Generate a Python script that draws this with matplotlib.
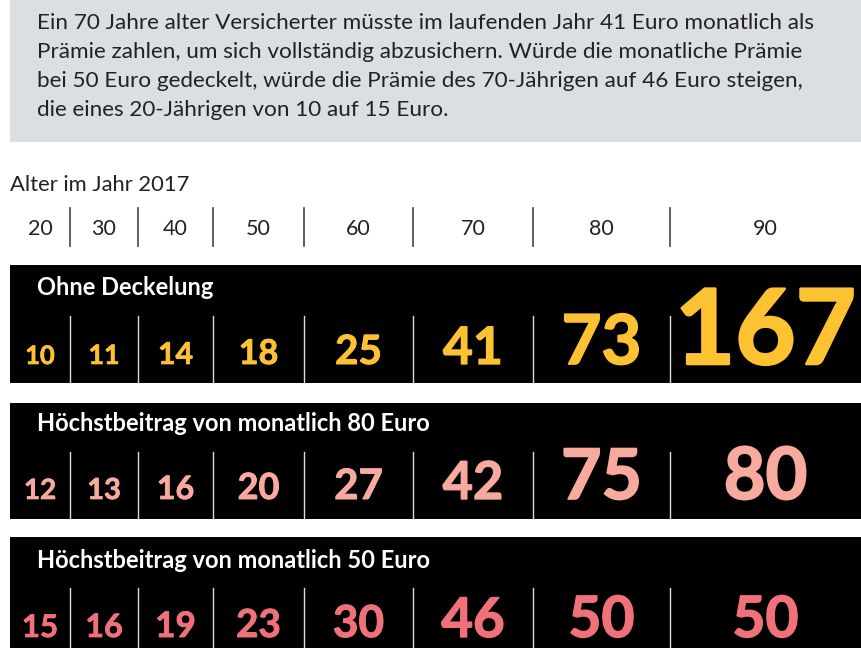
import numpy as np
import matplotlib.pyplot as plt
import matplotlib.patheffects as pe
from matplotlib.patches import Rectangle

plt.rcParams['font.family'] = ['Lato', 'DejaVu Sans']

intro_lines = [
    "Ein 70 Jahre alter Versicherter müsste im laufenden Jahr 41 Euro monatlich als",
    "Prämie zahlen, um sich vollständig abzusichern. Würde die monatliche Prämie",
    "bei 50 Euro gedeckelt, würde die Prämie des 70-Jährigen auf 46 Euro steigen,",
    "die eines 20-Jährigen von 10 auf 15 Euro.",
]
axis_title = "Alter im Jahr 2017"
ages = [20, 30, 40, 50, 60, 70, 80, 90]

titles = [
    "Ohne Deckelung",
    "Höchstbeitrag von monatlich 80 Euro",
    "Höchstbeitrag von monatlich 50 Euro",
]
ohne = [10, 11, 14, 18, 25, 41, 73, 167]
max80 = [12, 13, 16, 20, 27, 42, 75, 80]
max50 = [15, 16, 19, 23, 30, 46, 50, 50]
rows = [ohne, max80, max50]
colors = ["#fdc232", "#f8aa9f", "#f1717b"]

# layout, in pixels of the 861x648 picture
W, H = 861, 648
edges = [10, 70, 138, 213, 304, 413, 533, 670, 861]
panels = [(265, 383), (403, 519), (537, 648)]  # top, bottom
title_base = [295, 431, 568]
num_base = [364, 499, 637]
sep_top = [316, 452, 588]

fig = plt.figure(figsize=(W / 100, H / 100), dpi=100)
ax = fig.add_axes([0, 0, 1, 1])
ax.set_xlim(0, W)
ax.set_ylim(H, 0)
ax.axis("off")

# intro box
ax.add_patch(Rectangle((10, 0), W - 10, 142, color="#dcdfe2", lw=0))
for i, line in enumerate(intro_lines):
    ax.text(37, 29 + i * 29, line, fontsize=16.2, color="#222222", va="baseline")

ax.text(10, 191, axis_title, fontsize=15.8, color="#222222", va="baseline")

centers = [(edges[i] + edges[i + 1]) / 2 for i in range(len(ages))]
for c, a in zip(centers, ages):
    ax.text(c, 235, str(a), fontsize=15.5, color="#222222", ha="center", va="baseline")
for x in edges[1:-1]:
    ax.plot([x, x], [208, 246], color="#444444", lw=1.2)

for p, (top, bot) in enumerate(panels):
    ax.add_patch(Rectangle((10, top), W - 10, bot - top, color="black", lw=0))
    ax.text(37, title_base[p], titles[p], fontsize=17, color="white",
            fontweight="bold", va="baseline")
    for x in edges[1:-1]:
        ax.plot([x, x], [sep_top[p], bot], color="#dddddd", lw=1)
    for c, v in zip(centers, rows[p]):
        fs = 5.8 * np.sqrt(v)
        # slight stroke to get closer to the heavy weight of the original
        ax.text(c, num_base[p], str(v), fontsize=fs, color=colors[p],
                fontweight="bold", ha="center", va="baseline",
                path_effects=[pe.withStroke(linewidth=fs * 0.025, foreground=colors[p])])

fig.savefig("out.png", dpi=100)
